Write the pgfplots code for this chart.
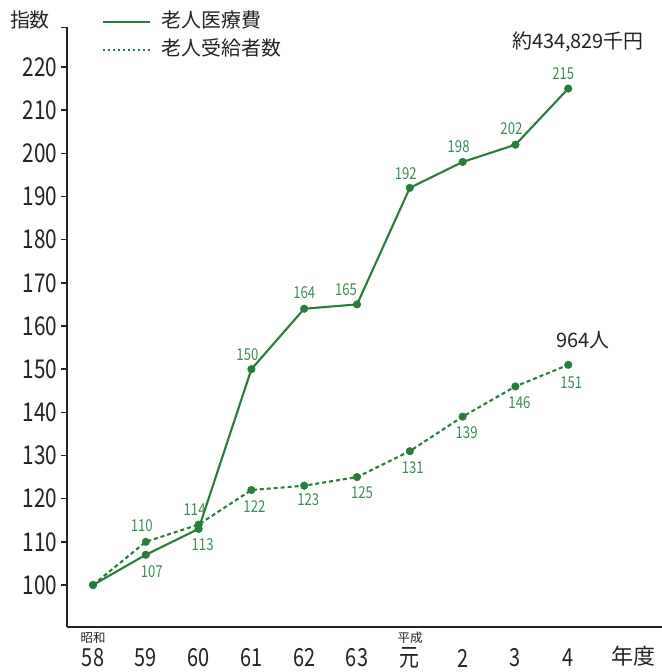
\documentclass[border=0pt]{standalone}
\usepackage{fontspec}
\setmainfont{Noto Sans CJK JP}
\newfontfamily\numfont[FakeStretch=0.8]{Noto Sans CJK JP}
\usepackage{pgfplots}
\usepackage{pgfplotstable}
\pgfplotsset{compat=1.18}
\definecolor{lgreen}{RGB}{40,125,60}
\definecolor{tgreen}{RGB}{60,140,85}
\definecolor{ink}{RGB}{35,35,35}

% x y label dx dy (label offset in bp)
\pgfplotstableread{
x y lab dx dy
0 100 {} 0 0
1 107 107 6 -17
2 113 113 4 -16
3 150 150 -4 15
4 164 164 0 16
5 165 165 -11 15
6 192 192 -4 14
7 198 198 -4 15
8 202 202 -4 16
9 215 215 -5 15
}\iryohi
\pgfplotstableread{
x y lab dx dy
0 100 {} 0 0
1 110 110 -4 16
2 114 114 -4 15
3 122 122 3 -16
4 123 123 4 -14
5 125 125 5 -16
6 131 131 3 -16
7 139 139 4 -16
8 146 146 4 -16
9 151 151 3 -18
}\jukyu

\pgfplotsset{
  serie/.style={lgreen, line width=2.1pt,
    mark=*, mark size=3.8pt, mark options={solid, fill=lgreen, draw=lgreen, line width=0.5pt},
    nodes near coords,
    point meta=explicit symbolic,
    visualization depends on=\thisrow{dx}\as\dx,
    visualization depends on=\thisrow{dy}\as\dy,
    every node near coord/.style={font=\numfont\fontsize{16.5}{16.5}\selectfont, text=tgreen,
        anchor=center, inner sep=0pt, xshift=\dx*1bp, yshift=\dy*1bp}},
}

\begin{document}
\begin{tikzpicture}[x=1bp,y=1bp]
\path[use as bounding box] (-67,-45) rectangle (595,627);
\begin{axis}[
    at={(0,0)}, anchor=south west,
    width=595bp, height=600bp, scale only axis,
    xmin=-0.4924, xmax=10.776, ymin=90.27, ymax=229.27,
    clip=false,
    axis lines*=left,
    axis line style={ink, line width=1.4pt},
    xtick={0,...,9},
    xticklabels={58,59,60,61,62,63,元,2,3,4},
    xtick style={draw=none},
    xticklabel style={font=\numfont\fontsize{25}{25}\selectfont, text=ink, anchor=center, yshift=-25bp},
    ytick={100,110,...,220},
    extra y ticks={229.2}, extra y tick labels={},
    ytick style={ink, line width=1.4pt},
    tick align=outside, major tick length=6bp,
    yticklabel style={font=\numfont\fontsize{26}{26}\selectfont, text=ink},
    /pgf/number format/assume math mode=true,
]
\addplot[serie, dash pattern=on 4pt off 3pt]
    table[x=x, y=y, meta=lab] {\jukyu};
\addplot[serie]
    table[x=x, y=y, meta=lab] {\iryohi};
\end{axis}

% descriptions and legend
\node[ink, font=\fontsize{20}{20}\selectfont] at (-37,607) {指数};
\draw[lgreen, line width=2pt] (36,605) -- (83,605);
\node[ink, anchor=west, font=\fontsize{20}{20}\selectfont] at (91,607) {老人医療費};
\draw[lgreen, line width=2pt, dash pattern=on 2pt off 3pt] (36,577) -- (83,577);
\node[ink, anchor=west, font=\fontsize{20}{20}\selectfont] at (91,579) {老人受給者数};
\node[ink, font=\fontsize{20}{20}\selectfont] at (511,585) {約434,829千円};
\node[ink, font=\fontsize{20}{20}\selectfont] at (516,287) {964人};
\node[ink, font=\fontsize{12.5}{12.5}\selectfont] at (26,-11) {昭和};
\node[ink, font=\fontsize{12.5}{12.5}\selectfont] at (343,-11) {平成};
\node[ink, font=\fontsize{22}{22}\selectfont] at (566,-29) {年度};
\end{tikzpicture}
\end{document}
